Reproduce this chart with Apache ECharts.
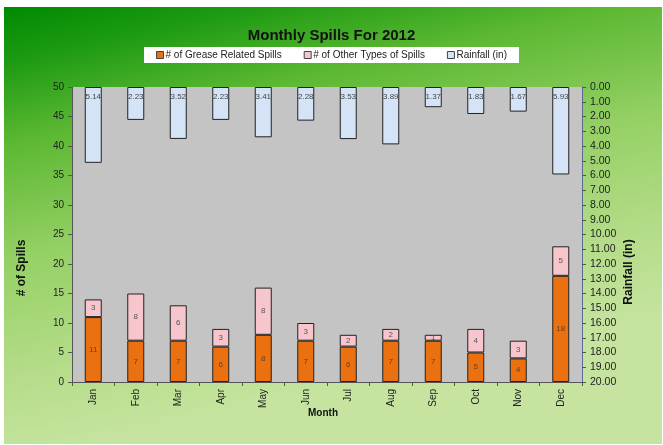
<!DOCTYPE html>
<html>
<head>
<meta charset="utf-8">
<script src="https://cdn.jsdelivr.net/npm/echarts@6/dist/echarts.min.js"></script>
<style>
html,body{margin:0;padding:0;background:#fff;}
#c{width:663px;height:445px;}
</style>
</head>
<body>
<div id="c"></div>
<script>
var months = ['Jan','Feb','Mar','Apr','May','Jun','Jul','Aug','Sep','Oct','Nov','Dec'];
var greaseSpills = [11,7,7,6,8,7,6,7,7,5,4,18];
var otherSpills = [3,8,6,3,8,3,2,2,1,4,3,5];
var rainfall = [5.14,2.23,3.52,2.23,3.41,2.28,3.53,3.89,1.37,1.83,1.67,5.93];

var FONT = '"Liberation Sans", Arial, sans-serif';
var chart = echarts.init(document.getElementById('c'));
chart.setOption({
  animation: false,
  textStyle: {fontFamily: FONT},
  graphic: [
    {type:'rect', z:-10, silent:true, shape:{x:4,y:7,width:658,height:437},
     style:{fill:new echarts.graphic.LinearGradient(0,0,0.15,1,[
       {offset:0,color:'#008a00'},
       {offset:0.12,color:'#1c9a12'},
       {offset:0.3,color:'#5cb832'},
       {offset:0.55,color:'#94d064'},
       {offset:0.8,color:'#b4dc88'},
       {offset:1,color:'#c6e4a0'}])}},
    {type:'text', x:22, y:268, rotation:Math.PI/2,
     style:{text:'# of Spills', font:'bold 12px '+FONT, fill:'#111', align:'center', verticalAlign:'middle'}},
    {type:'text', x:629, y:272, rotation:Math.PI/2,
     style:{text:'Rainfall (in)', font:'bold 12px '+FONT, fill:'#111', align:'center', verticalAlign:'middle'}},
    {type:'text', x:323, y:413,
     style:{text:'Month', font:'bold 10px '+FONT, fill:'#111', align:'center', verticalAlign:'middle'}}
  ],
  title: {
    text: 'Monthly Spills For 2012',
    left: 'center', top: 23,
    textStyle: {fontFamily: FONT, fontSize: 15, fontWeight: 'bold', color: '#111'}
  },
  legend: {
    top: 47, left: 'center',
    backgroundColor: '#fff',
    padding: [3, 12, 3, 12],
    itemWidth: 7, itemHeight: 7, itemGap: 22,
    icon: 'rect',
    itemStyle: {borderColor: '#444', borderWidth: 1},
    textStyle: {fontFamily: FONT, fontSize: 10, color: '#222', padding:[0,0,0,-3]},
    data: ['# of Grease Related Spills', '# of Other Types of Spills', 'Rainfall (in)']
  },
  grid: {left: 72, right: 81, top: 87, bottom: 63, show: true, backgroundColor: '#c4c4c4', borderWidth: 0},
  xAxis: {
    type: 'category', data: months,
    axisLine: {lineStyle: {color: '#555'}},
    axisTick: {show: true, length: 4, lineStyle: {color: '#555'}},
    axisLabel: {rotate: 90, fontSize: 10, color: '#222', margin: 7, fontFamily: FONT}
  },
  yAxis: [
    {type: 'value', min: 0, max: 50, interval: 5,
     axisLine: {show: true, lineStyle: {color: '#555'}},
     axisTick: {show: true, length: 4, lineStyle: {color: '#555'}},
     splitLine: {show: false},
     axisLabel: {fontSize: 10, color: '#222', margin: 8, fontFamily: FONT}},
    {type: 'value', min: 0, max: 20, interval: 1, inverse: true, position: 'right',
     axisLine: {show: true, lineStyle: {color: '#5a6a90'}},
     axisTick: {show: true, length: 4, lineStyle: {color: '#555'}},
     splitLine: {show: false},
     axisLabel: {fontSize: 10.5, color: '#222', margin: 8, fontFamily: FONT,
       formatter: function(v){ return v.toFixed(2); }}}
  ],
  series: [
    {name: '# of Grease Related Spills', type: 'bar', stack: 's', data: greaseSpills,
     barWidth: 17, barGap: '-100%',
     itemStyle: {color: '#ea7010', borderColor: '#222', borderWidth: 1},
     label: {show: true, position: 'inside', fontSize: 8, color: '#6a4020', fontFamily: FONT}},
    {name: '# of Other Types of Spills', type: 'bar', stack: 's', data: otherSpills,
     barWidth: 17, barGap: '-100%',
     itemStyle: {color: '#f6c6cc', borderColor: '#222', borderWidth: 1},
     label: {show: true, position: 'inside', fontSize: 8, color: '#555', fontFamily: FONT}},
    {name: 'Rainfall (in)', type: 'bar', yAxisIndex: 1, data: rainfall,
     barWidth: 17, barGap: '-100%',
     itemStyle: {color: '#d4e4f6', borderColor: '#222', borderWidth: 1},
     label: {show: true, position: 'insideTop', distance: 6, fontSize: 8, color: '#444', fontFamily: FONT,
       formatter: function(p){ return p.value.toFixed(2); }}}
  ]
});
</script>
</body>
</html>
